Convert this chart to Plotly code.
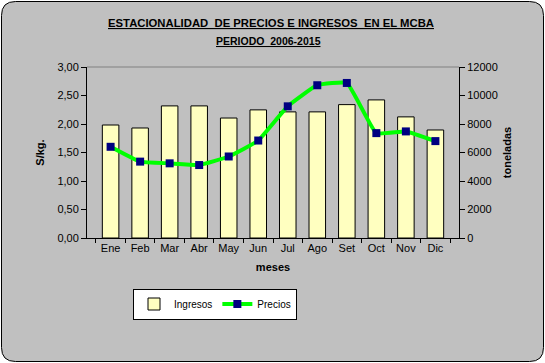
import plotly.graph_objects as go

meses = ["Ene", "Feb", "Mar", "Abr", "May", "Jun", "Jul", "Ago", "Set", "Oct", "Nov", "Dic"]
ingresos = [7930, 7720, 9270, 9270, 8420, 8990, 8850, 8850, 9360, 9690, 8500, 7580]
precios = [1.60, 1.34, 1.31, 1.28, 1.43, 1.71, 2.31, 2.68, 2.72, 1.84, 1.87, 1.70]
y_ticks = [0, 0.5, 1.0, 1.5, 2.0, 2.5, 3.0]
y_ticklabels = ["0,00", "0,50", "1,00", "1,50", "2,00", "2,50", "3,00"]
y2_ticks = [0, 2000, 4000, 6000, 8000, 10000, 12000]
y2_ticklabels = ["0", "2000", "4000", "6000", "8000", "10000", "12000"]

W, H = 545, 363
L, R, T, B = 87, 86, 67, 125
pw, ph = W - L - R, H - T - B

def px(x):
    return (x - L) / pw

def py(y):
    return (H - B - y) / ph

FONT = "Liberation Sans, Arial, sans-serif"

fig = go.Figure()
fig.add_trace(go.Bar(
    x=meses, y=ingresos, name="Ingresos", yaxis="y",
    marker=dict(color="#FFFFC0", line=dict(color="black", width=1)),
))
fig.add_trace(go.Scatter(
    x=meses, y=precios, name="Precios", mode="lines+markers", yaxis="y2",
    line=dict(color="#00FF00", width=4, shape="spline", smoothing=0.35),
    marker=dict(symbol="square", color="#000080", size=8),
))

# rounded outer frame
x0, x1, y0, y1 = px(1.5), px(543.5), py(361.5), py(1.5)
rx, ry = 14 / pw, 14 / ph
path = (f"M {x0+rx},{y1} L {x1-rx},{y1} Q {x1},{y1} {x1},{y1-ry} "
        f"L {x1},{y0+ry} Q {x1},{y0} {x1-rx},{y0} L {x0+rx},{y0} "
        f"Q {x0},{y0} {x0},{y0+ry} L {x0},{y1-ry} Q {x0},{y1} {x0+rx},{y1} Z")

axis_common = dict(showline=True, linecolor="black", linewidth=1, ticks="outside",
                   ticklen=5, tickcolor="black", showgrid=False, zeroline=False,
                   tickfont=dict(size=11))

fig.update_layout(
    width=W, height=H,
    margin=dict(l=L, r=R, t=T, b=B),
    paper_bgcolor="white",
    plot_bgcolor="rgba(0,0,0,0)",
    font=dict(family=FONT, size=11, color="black"),
    bargap=0.44,
    showlegend=True,
    legend=dict(
        orientation="h", x=px(133), y=py(304), xanchor="left", yanchor="middle",
        bgcolor="white", bordercolor="black", borderwidth=1,
        font=dict(size=10, family=FONT), traceorder="normal",
        itemwidth=30,
    ),
    xaxis=dict(
        type="category", showline=True, linecolor="black", linewidth=1,
        ticks="outside", ticklen=4, tickcolor="black", tickson="boundaries",
        tickangle=0,
        title=dict(text="<b>meses</b>", font=dict(size=11), standoff=10),
        tickfont=dict(size=11), showgrid=False,
    ),
    yaxis=dict(
        range=[0, 12000], tickvals=y2_ticks, ticktext=y2_ticklabels, side="right",
        title=dict(text="<b>toneladas</b>", font=dict(size=11), standoff=6),
        **axis_common,
    ),
    yaxis2=dict(
        range=[0, 3], tickvals=y_ticks, ticktext=y_ticklabels, side="left",
        overlaying="y",
        title=dict(text="<b>S/kg.</b>", font=dict(size=11), standoff=10),
        **axis_common,
    ),
    shapes=[
        dict(type="path", xref="paper", yref="paper", path=path,
             fillcolor="#C0C0C0", line=dict(color="black", width=1), layer="below"),
        dict(type="line", xref="paper", yref="paper", x0=0, x1=1, y0=1, y1=1,
             line=dict(color="#808080", width=1), layer="below"),
    ],
    annotations=[
        dict(text="<b><u>ESTACIONALIDAD  DE PRECIOS E INGRESOS  EN EL MCBA</u></b>",
             xref="paper", yref="paper", x=px(271), y=py(23), showarrow=False,
             xanchor="center", yanchor="middle",
             font=dict(size=11.3, family=FONT)),
        dict(text="<b><u>PERIODO  2006-2015</u></b>",
             xref="paper", yref="paper", x=px(268), y=py(41), showarrow=False,
             xanchor="center", yanchor="middle",
             font=dict(size=10.5, family=FONT)),
    ],
)

fig.write_html("out.html", config={"displayModeBar": False},
               post_script="document.body.style.margin='0';document.body.style.overflow='hidden';")
